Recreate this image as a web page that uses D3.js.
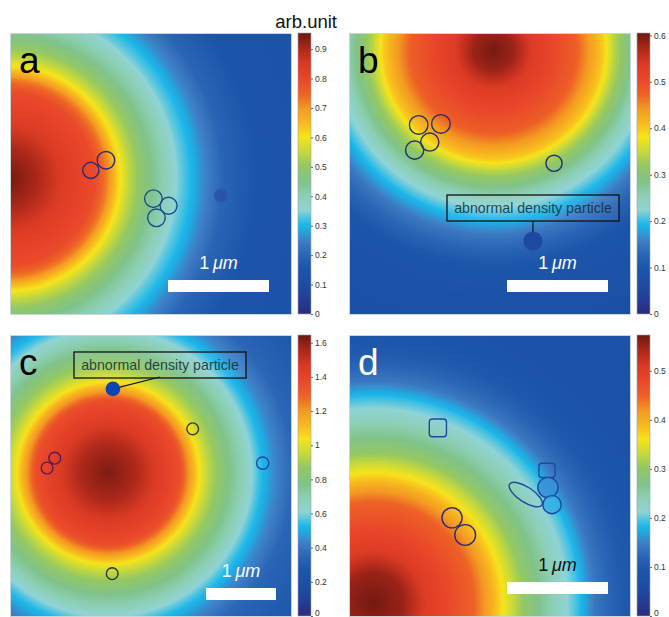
<!DOCTYPE html>
<html>
<head>
<meta charset="utf-8">
<script src="https://cdn.jsdelivr.net/npm/d3@7/dist/d3.min.js"></script>
<style>
  body { margin: 0; background: #fff; }
  svg { display: block; font-family: "Liberation Sans", Arial, sans-serif; }
</style>
</head>
<body>
<svg id="chart" width="669" height="617"></svg>
<script>
"use strict";

// ---- data (positions in micrometres, values in arb.unit) ----
const panelNames = ["a", "b", "c", "d"];
const pxPerUm = [101, 101, 70, 101];
const colorMax = [0.955, 0.605, 1.645, 0.573];
const colorTicks = [
    [0, 0.1, 0.2, 0.3, 0.4, 0.5, 0.6, 0.7, 0.8, 0.9],
    [0, 0.1, 0.2, 0.3, 0.4, 0.5, 0.6],
    [0, 0.2, 0.4, 0.6, 0.8, 1, 1.2, 1.4, 1.6],
    [0, 0.1, 0.2, 0.3, 0.4, 0.5]
];
const fieldCenters = [[-0.02, 1.44], [1.43, 0.17], [1.40, 1.97], [0.24, 2.65]];
const profileRadius = [
    [0, 0.3, 0.59, 0.86, 0.98, 1.09, 1.19, 1.36, 1.58, 1.70, 1.80, 1.93, 2.13, 2.48, 3.96],
    [0, 0.2, 0.4, 0.81, 0.95, 1.08, 1.2, 1.4, 1.53, 1.65, 1.83, 2.13, 2.57, 3.96],
    [0, 0.4, 0.7, 1.03, 1.16, 1.32, 1.44, 1.64, 1.93, 2.14, 2.36, 2.64, 3.14, 4.29],
    [0, 0.3, 0.54, 0.99, 1.17, 1.32, 1.49, 1.68, 1.88, 2.03, 2.2, 2.48, 2.97, 4.95]
];
const profileValue = [
    [0.95, 0.9, 0.83, 0.79, 0.72, 0.62, 0.55, 0.47, 0.39, 0.34, 0.31, 0.26, 0.2, 0.15, 0.12],
    [0.6, 0.58, 0.53, 0.48, 0.44, 0.4, 0.34, 0.27, 0.23, 0.2, 0.15, 0.1, 0.08, 0.07],
    [1.62, 1.55, 1.45, 1.35, 1.2, 1.02, 0.93, 0.82, 0.68, 0.56, 0.45, 0.35, 0.29, 0.26],
    [0.57, 0.55, 0.5, 0.45, 0.4, 0.35, 0.3, 0.26, 0.22, 0.19, 0.14, 0.1, 0.08, 0.075]
];
// particles: [x, y, radius] in um
const rings = [
    [[0.80, 1.36, 0.08], [0.95, 1.26, 0.087], [1.42, 1.64, 0.087], [1.57, 1.71, 0.084], [1.45, 1.83, 0.087], [2.09, 1.61, 0.064]],
    [[0.69, 0.91, 0.092], [0.91, 0.90, 0.092], [0.80, 1.08, 0.09], [0.65, 1.16, 0.09], [2.03, 1.29, 0.08]],
    [[2.61, 1.34, 0.084], [0.64, 1.76, 0.084], [0.53, 1.90, 0.084], [3.61, 1.83, 0.088], [1.46, 3.41, 0.084]],
    [[1.97, 1.51, 0.1], [2.01, 1.68, 0.09], [1.02, 1.81, 0.1], [1.15, 1.98, 0.103]]
];
const ringColors = [
    ["#2a2c74", "#2a2c74", "#1b4c86", "#1b4c86", "#1b4c86", "#2b5ab0"],
    ["#23306e", "#23306e", "#23306e", "#23306e", "#23306e"],
    ["#3a3a22", "#5a1a55", "#5a1a55", "#1c4aa0", "#2a3a2a"],
    ["#1d4a9c", "#1d4a9c", "#2a2c74", "#2a2c74"]
];
const ringFills = [
    ["none", "none", "none", "none", "none", "#2a50a6"],
    ["none", "none", "none", "none", "none"],
    ["none", "none", "none", "none", "none"],
    ["#3a8fd6", "#38b0e6", "none", "none"]
];
// squarish particles in panel d: [x, y, halfWidth, halfHeight]
const squares = [[0.88, 0.92, 0.085, 0.088], [1.96, 1.34, 0.08, 0.07]];
// elongated particle in panel d: [x, y, rx, ry, angle deg]
const elongated = [[1.75, 1.58, 0.19, 0.075, 33]];
// abnormal density particles: [panel, x, y, radius]
const abnormal = [[1, 1.82, 2.06, 0.095], [2, 1.47, 0.77, 0.105]];
const annotationText = "abnormal density particle";

// ---- colormap ----
const rampStops = [0, 0.05, 0.1, 0.16, 0.21, 0.26, 0.3, 0.32, 0.37, 0.42, 0.47, 0.53, 0.58, 0.63, 0.68, 0.73, 0.78, 0.84, 0.89, 0.94, 1];
const rampColors = ["#2b2a7c", "#243d93", "#1c4ca2", "#1b55aa", "#2a64b5", "#3e7fc5", "#22a9e0", "#1db7ea",
    "#8fd3d5", "#8dcfb5", "#80c38a", "#95c862", "#c9d93a", "#f6e31b", "#f8b81f", "#f39a22",
    "#ee6326", "#e8452a", "#d93a23", "#b0291b", "#6e1711"];
const ramp = d3.scaleLinear().domain(rampStops).range(rampColors).clamp(true);

// ---- layout ----
const size = 282;
const lefts = [10, 349, 10, 349];
const tops = [33, 33, 335, 335];

const svg = d3.select("#chart");
const defs = svg.append("defs");

svg.append("text")
    .attr("x", 337).attr("y", 28)
    .attr("text-anchor", "end")
    .attr("font-size", 18.5)
    .attr("fill", "#111")
    .text("arb.unit");

panelNames.forEach(function(name, i) {
    const left = lefts[i], top = tops[i];
    const k = pxPerUm[i];
    const x = d3.scaleLinear().domain([0, size / k]).range([left, left + size]);
    const y = d3.scaleLinear().domain([0, size / k]).range([top, top + size]);
    const profile = d3.scaleLinear().domain(profileRadius[i]).range(profileValue[i]).clamp(true);
    const cx = fieldCenters[i][0], cy = fieldCenters[i][1];

    // heat map raster
    const canvas = document.createElement("canvas");
    canvas.width = size; canvas.height = size;
    const ctx = canvas.getContext("2d");
    const img = ctx.createImageData(size, size);
    for (let py = 0; py < size; py++) {
        for (let px = 0; px < size; px++) {
            const ux = x.invert(left + px + 0.5), uy = y.invert(top + py + 0.5);
            const r = Math.hypot(ux - cx, uy - cy);
            const c = d3.rgb(ramp(profile(r) / colorMax[i]));
            const o = (py * size + px) * 4;
            img.data[o] = c.r; img.data[o + 1] = c.g; img.data[o + 2] = c.b; img.data[o + 3] = 255;
        }
    }
    ctx.putImageData(img, 0, 0);

    const g = svg.append("g").attr("class", "panel-" + name);
    g.append("image")
        .attr("x", left).attr("y", top)
        .attr("width", size).attr("height", size)
        .attr("href", canvas.toDataURL());
    g.append("rect")
        .attr("x", left + 0.5).attr("y", top + 0.5)
        .attr("width", size - 1).attr("height", size - 1)
        .attr("fill", "none").attr("stroke", "#c9d6d8").attr("stroke-width", 1);

    // particles
    g.selectAll("circle.ring")
        .data(rings[i])
        .enter().append("circle")
        .attr("class", "ring")
        .attr("cx", d => x(d[0])).attr("cy", d => y(d[1]))
        .attr("r", d => d[2] * k)
        .attr("fill", (d, j) => ringFills[i][j])
        .attr("fill-opacity", 0.85)
        .attr("stroke", (d, j) => ringColors[i][j])
        .attr("stroke-width", 1.4);

    if (name === "d") {
        g.selectAll("rect.sq")
            .data(squares)
            .enter().append("rect")
            .attr("class", "sq")
            .attr("x", d => x(d[0] - d[2])).attr("y", d => y(d[1] - d[3]))
            .attr("width", d => d[2] * 2 * k).attr("height", d => d[3] * 2 * k)
            .attr("rx", 3)
            .attr("fill", "none").attr("stroke", "#1d4a9c").attr("stroke-width", 1.4);
        g.selectAll("ellipse.el")
            .data(elongated)
            .enter().append("ellipse")
            .attr("class", "el")
            .attr("cx", d => x(d[0])).attr("cy", d => y(d[1]))
            .attr("rx", d => d[2] * k).attr("ry", d => d[3] * k)
            .attr("transform", d => `rotate(${d[4]},${x(d[0])},${y(d[1])})`)
            .attr("fill", "none").attr("stroke", "#1d4a9c").attr("stroke-width", 1.4);
    }

    // abnormal particle with label box
    abnormal.filter(d => d[0] === i).forEach(function(d) {
        const px = x(d[1]), py = y(d[2]);
        let boxX, boxY, lineEnd;
        if (name === "b") { boxX = 447; boxY = 195; lineEnd = [533, 221]; }
        else { boxX = 74; boxY = 352; lineEnd = [160, 377]; }
        g.append("line")
            .attr("x1", lineEnd[0]).attr("y1", lineEnd[1])
            .attr("x2", px).attr("y2", py)
            .attr("stroke", "#111").attr("stroke-width", 1.2);
        g.append("circle")
            .attr("cx", px).attr("cy", py).attr("r", d[3] * k)
            .attr("fill", name === "b" ? "#1d49a0" : "#0c44b0");
        g.append("rect")
            .attr("x", boxX).attr("y", boxY)
            .attr("width", 172).attr("height", 26)
            .attr("fill", "#fff").attr("fill-opacity", 0.06)
            .attr("stroke", "#111").attr("stroke-width", 1.3);
        g.append("text")
            .attr("x", boxX + 86).attr("y", boxY + 18)
            .attr("text-anchor", "middle")
            .attr("font-size", 14.2)
            .attr("fill", "#0d2a33").attr("fill-opacity", 0.85)
            .text(annotationText);
    });

    // panel letter
    g.append("text")
        .attr("x", left + 9).attr("y", top + 40)
        .attr("font-size", 37)
        .attr("fill", name === "d" ? "#fff" : "#000")
        .text(name);

    // scale bar (1 um)
    const barLen = k;
    const barRight = name === "c" ? left + 266 : left + 259;
    const barY = name === "c" ? top + 253 : top + 247;
    g.append("rect")
        .attr("x", barRight - barLen).attr("y", barY)
        .attr("width", barLen).attr("height", 12)
        .attr("fill", "#fff");
    const lab = g.append("text")
        .attr("x", barRight - barLen / 2).attr("y", barY - 11)
        .attr("text-anchor", "middle")
        .attr("font-size", 18)
        .attr("fill", name === "d" ? "#111" : "#fff");
    lab.append("tspan").text("1\u2009");
    lab.append("tspan").attr("font-style", "italic").text("\u03bcm");

    // colour bar
    const cbX = left + size + 6, cbW = 13, cbH = 281;
    const gradId = "grad-" + name;
    const grad = defs.append("linearGradient").attr("id", gradId)
        .attr("x1", 0).attr("y1", 1).attr("x2", 0).attr("y2", 0);
    grad.selectAll("stop").data(rampStops).enter().append("stop")
        .attr("offset", d => d)
        .attr("stop-color", (d, j) => rampColors[j]);
    g.append("rect")
        .attr("x", cbX).attr("y", top)
        .attr("width", cbW).attr("height", cbH)
        .attr("fill", `url(#${gradId})`)
        .attr("stroke", "#9aa3a8").attr("stroke-width", 0.6);
    const cs = d3.scaleLinear().domain([0, colorMax[i]]).range([top + cbH, top]);
    const ax = g.append("g")
        .attr("transform", `translate(${cbX + cbW},0)`)
        .call(d3.axisRight(cs).tickValues(colorTicks[i]).tickSize(2).tickPadding(2).tickFormat(d3.format("~g")));
    ax.select(".domain").remove();
    ax.selectAll("line").attr("stroke", "#666");
    ax.selectAll("text").attr("font-size", 8.5).attr("fill", "#333")
        .attr("font-family", "\"Liberation Sans\", Arial, sans-serif");
    // keep the bottom "0" of the lower colour bars inside the page
    if (top + cbH > 600) {
        ax.selectAll("text").filter(d => d === 0).attr("dy", "-0.05em");
    }
});
</script>
</body>
</html>
